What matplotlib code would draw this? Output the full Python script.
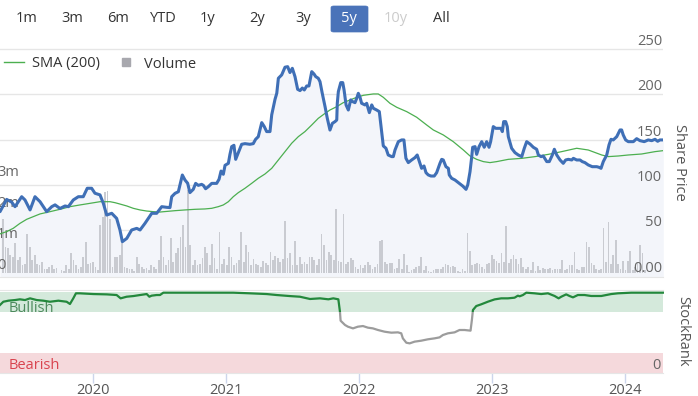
import numpy as np
import matplotlib
matplotlib.use("Agg")
import matplotlib.pyplot as plt
from matplotlib.patches import Rectangle, FancyBboxPatch
from matplotlib.lines import Line2D
from matplotlib import transforms as mtrans

# ---------------- data (time in decimal years) ----------------
price_t = [2019.301, 2019.351, 2019.389, 2019.414, 2019.464, 2019.489, 2019.527, 2019.564, 2019.602, 2019.652,
           2019.690, 2019.715, 2019.752, 2019.790, 2019.815, 2019.852, 2019.890, 2019.927, 2019.957, 2019.990,
           2020.015, 2020.053, 2020.078, 2020.103, 2020.141, 2020.178, 2020.203, 2020.221, 2020.254, 2020.291,
           2020.329, 2020.354, 2020.391, 2020.442, 2020.479, 2020.517, 2020.554, 2020.579, 2020.592, 2020.617,
           2020.642, 2020.654, 2020.672, 2020.692, 2020.712, 2020.729, 2020.754, 2020.772, 2020.792, 2020.817,
           2020.830, 2020.847, 2020.867, 2020.893, 2020.930, 2020.948, 2020.963, 2020.980, 2020.993, 2021.018,
           2021.030, 2021.043, 2021.060, 2021.073, 2021.093, 2021.118, 2021.143, 2021.180, 2021.205, 2021.223,
           2021.243, 2021.269, 2021.288, 2021.306, 2021.331, 2021.344, 2021.369, 2021.382, 2021.394, 2021.419,
           2021.444, 2021.464, 2021.481, 2021.499, 2021.519, 2021.539, 2021.557, 2021.574, 2021.589, 2021.607,
           2021.624, 2021.645, 2021.662, 2021.675, 2021.694, 2021.707, 2021.724, 2021.745, 2021.762, 2021.782,
           2021.800, 2021.820, 2021.833, 2021.837, 2021.845, 2021.863, 2021.878, 2021.888, 2021.903, 2021.920,
           2021.938, 2021.953, 2021.970, 2021.983, 2021.995, 2022.008, 2022.020, 2022.045, 2022.058, 2022.078,
           2022.088, 2022.096, 2022.108, 2022.133, 2022.153, 2022.171, 2022.183, 2022.203, 2022.220, 2022.246,
           2022.258, 2022.271, 2022.296, 2022.321, 2022.338, 2022.353, 2022.371, 2022.396, 2022.421, 2022.438,
           2022.454, 2022.471, 2022.489, 2022.504, 2022.521, 2022.541, 2022.566, 2022.584, 2022.609, 2022.622,
           2022.634, 2022.654, 2022.672, 2022.679, 2022.697, 2022.722, 2022.747, 2022.780, 2022.805, 2022.818,
           2022.835, 2022.848, 2022.855, 2022.873, 2022.885, 2022.903, 2022.923, 2022.942, 2022.960, 2022.978,
           2022.990, 2023.010, 2023.028, 2023.048, 2023.068, 2023.078, 2023.088, 2023.103, 2023.115, 2023.123,
           2023.148, 2023.173, 2023.198, 2023.224, 2023.243, 2023.261, 2023.286, 2023.311, 2023.336, 2023.349,
           2023.369, 2023.386, 2023.412, 2023.431, 2023.454, 2023.469, 2023.487, 2023.512, 2023.536, 2023.554,
           2023.574, 2023.600, 2023.612, 2023.637, 2023.662, 2023.679, 2023.699, 2023.724, 2023.754, 2023.788,
           2023.805, 2023.820, 2023.837, 2023.863, 2023.880, 2023.895, 2023.912, 2023.938, 2023.963, 2023.975,
           2023.987, 2024.005, 2024.025, 2024.063, 2024.088, 2024.113, 2024.145, 2024.175, 2024.201, 2024.226,
           2024.246, 2024.263, 2024.288]
price_v = [70.5, 84, 81, 76, 87, 83.4, 72.4, 87, 81.5, 70.5,
           76, 78, 74, 76.8, 76, 83.4, 87, 87, 96.3, 96.3,
           90.8, 89, 79.7, 66.8, 68.7, 63.1, 50.3, 37.4, 41, 50.3,
           52.1, 50.3, 57.6, 68.7, 68.7, 76, 75.3, 75, 87, 90.7,
           92.5, 99.9, 110.9, 105.4, 101.8, 91.5, 95.1, 101.7, 99.5, 100.6,
           99.5, 95.8, 98, 101.7, 101.7, 106.2, 115.3, 111.7, 121.6, 123.8,
           133.7, 142.2, 143.7, 128.2, 135.6, 144.8, 145.5, 144.8, 145.5, 150.3,
           153.2, 168.7, 164.3, 158.8, 158.8, 177.3, 194.5, 201.0, 217.6, 221.3,
           229.8, 230.4, 223.9, 228.6, 219.4, 205.4, 204.0, 206.8, 204.7, 209.1,
           209.1, 224.9, 222.3, 219.4, 217.6, 213.9, 201.0, 186.3, 173.4, 160.5,
           167.9, 169.8, 171.6, 190, 202.9, 212.8, 212.8, 204.7, 188.2, 182.6,
           193.7, 191.8, 190.7, 195.5, 201.0, 196.6, 190, 188.2, 190, 179.7,
           184.5, 188.2, 184.5, 182.6, 180.8, 158.7, 143, 140.4, 133, 131.2,
           131.2, 138.5, 147.7, 149.6, 149.6, 129.4, 124.6, 127.5, 130.1, 133,
           125.7, 118.3, 120.9, 113.5, 111, 109.8, 109.8, 113.5, 123.8, 128.2,
           127.5, 120.1, 118.3, 111, 107.3, 105.4, 102.5, 98.8, 95.1, 100,
           114.6, 131.2, 141.5, 142.2, 133.7, 142.2, 147.7, 141.5, 147.7, 141.5,
           147.7, 164.3, 162.4, 162.4, 162.4, 158.8, 169.8, 169.8, 164.3, 153.2,
           140.4, 135.6, 133, 131.2, 140.4, 147.7, 145.1, 141.5, 139.3, 133,
           131.2, 131.9, 125.7, 125.7, 133, 139.3, 133, 127.5, 123.8, 127.5,
           128.2, 127.5, 129.3, 127.5, 127.5, 125.7, 124.6, 122, 120.1, 120.1,
           119.4, 118.3, 125.7, 133, 144.1, 150.3, 149.6, 153.2, 160.6, 160.6,
           155.1, 149.6, 147.7, 147.7, 151, 148.8, 147.7, 149.6, 148.8, 150.3,
           148.1, 149.6, 149.6]

sma_t = [2019.301, 2019.351, 2019.401, 2019.451, 2019.502, 2019.551, 2019.602, 2019.677, 2019.752, 2019.827,
         2019.902, 2019.978, 2020.053, 2020.090, 2020.128, 2020.166, 2020.203, 2020.254, 2020.303, 2020.354,
         2020.404, 2020.454, 2020.504, 2020.617, 2020.692, 2020.767, 2020.842, 2020.893, 2020.942, 2020.980,
         2021.018, 2021.055, 2021.093, 2021.143, 2021.193, 2021.243, 2021.293, 2021.344, 2021.394, 2021.444,
         2021.494, 2021.544, 2021.594, 2021.645, 2021.694, 2021.745, 2021.782, 2021.833, 2021.882, 2021.933,
         2021.983, 2022.033, 2022.108, 2022.145, 2022.183, 2022.233, 2022.284, 2022.359, 2022.434, 2022.509,
         2022.559, 2022.634, 2022.709, 2022.785, 2022.835, 2022.885, 2022.935, 2022.985, 2023.036, 2023.123,
         2023.224, 2023.324, 2023.424, 2023.524, 2023.637, 2023.724, 2023.825, 2023.875, 2023.950, 2024.025,
         2024.126, 2024.226, 2024.288]
sma_v = [46.0, 48.5, 52.2, 57.6, 62.1, 65, 68, 70.5, 73.1, 76,
         77.9, 79.7, 81.5, 81.5, 81.5, 80.4, 78.9, 76.8, 74.2, 72.4,
         71.2, 70.5, 70.1, 71.6, 72.4, 73.1, 73.5, 74.2, 76, 77.9,
         81.5, 87, 91.5, 96.3, 101.7, 107.3, 112, 118.3, 127.5, 136.7,
         145.9, 153.2, 158.8, 166.1, 173.4, 178.9, 182.6, 186.3, 190.7, 193.7,
         196.6, 198.8, 200.3, 200.3, 196.6, 190, 185.6, 180.8, 174.6, 166.1,
         160.6, 155.1, 147.7, 138.5, 131.9, 128.2, 125.7, 124.6, 125.7, 128.2,
         129.3, 131.2, 133.7, 136.7, 140.4, 138.5, 133, 131.2, 131.9, 133,
         134.1, 136.7, 137.8]

# weekly volume, millions of shares
volume_start, volume_end = 2019.324, 2024.150
volume_m = [1.77, 0.86, 0.81, 0.59, 0.54, 0.97, 0.43, 0.54, 0.27, 0.32,
            1.29, 0.86, 0.43, 0.59, 0.32, 0.27, 0.38, 0.16, 0.16, 0.22,
            0.29, 0.16, 0.18, 0.03, 0.11, 0.08, 0.27, 0.16, 0.65, 0.43,
            0.27, 0.16, 0.22, 0.54, 1.00, 0.32, 0.35, 0.38, 0.22, 0.11,
            1.56, 1.83, 2.63, 2.66, 1.77, 0.22, 0.54, 0.54, 0.59, 0.97,
            0.22, 0.18, 0.14, 0.16, 0.08, 0.54, 0.32, 0.22, 0.16, 0.18,
            0.11, 0.29, 0.22, 0.16, 0.43, 1.22, 0.54, 0.27, 0.43, 1.13,
            0.38, 0.65, 0.81, 1.18, 1.56, 0.86, 2.69, 0.91, 0.29, 0.43,
            0.27, 0.32, 0.51, 0.86, 0.65, 0.27, 0.94, 0.51, 0.16, 1.34,
            0.32, 0.48, 0.27, 0.86, 0.54, 0.27, 0.35, 0.43, 1.34, 0.38,
            0.91, 0.70, 0.29, 0.48, 0.32, 0.27, 0.22, 0.40, 0.35, 0.29,
            0.70, 0.43, 0.57, 0.51, 0.38, 0.48, 1.69, 0.51, 0.65, 0.27,
            1.04, 0.27, 0.54, 0.32, 0.38, 0.32, 0.54, 0.54, 0.43, 0.27,
            0.48, 1.26, 0.91, 0.43, 0.70,
            0.59, 0.43, 2.08, 0.40, 0.38, 1.91, 0.32, 0.38, 0.51, 0.43,
            0.22, 0.16, 0.29, 0.18, 0.27, 0.38, 0.27, 0.16, 0.22, 0.32,
            1.04, 1.08, 0.38, 0.32, 0.35, 0.35, 0.16, 0.18, 0.46, 0.16,
            0.62, 0.29, 0.05, 0.11, 0.16, 0.22, 0.25, 0.54, 0.11, 0.24,
            0.08, 0.05, 0.11, 0.14, 0.16, 0.16, 0.22, 0.30, 0.27, 0.22,
            0.24, 0.22, 0.08, 0.05, 0.16, 0.08, 1.32, 0.72, 0.29, 0.30,
            0.35, 0.32, 0.22, 0.16, 0.30, 0.35, 0.59, 0.46, 0.40, 0.35,
            0.65, 0.38, 1.54, 0.34, 0.46, 0.59, 0.48, 0.32, 0.51, 0.22,
            0.16, 0.22, 0.11, 0.38, 0.08, 0.24, 0.11, 0.18, 0.16, 0.14,
            0.18, 0.11, 0.16, 0.14, 0.16, 0.43, 0.11, 0.16, 0.27, 0.27,
            0.68, 0.16, 0.11, 0.22, 0.22, 1.00, 0.86, 0.35, 0.29, 0.16,
            0.11, 0.16, 1.47, 0.38, 1.65, 0.32, 0.59, 1.08, 0.32, 0.16,
            0.40, 0.11, 0.40, 0.72, 0.11, 0.22, 0.35, 0.91, 0.65, 0.11]

rank_t = [2019.301, 2019.326, 2019.364, 2019.414, 2019.451, 2019.489, 2019.527, 2019.577, 2019.627, 2019.677,
          2019.740, 2019.802, 2019.827, 2019.852, 2019.872, 2019.902, 2020.003, 2020.103, 2020.178, 2020.208,
          2020.253, 2020.303, 2020.354, 2020.404, 2020.424, 2020.441, 2020.479, 2020.504, 2020.529, 2020.604,
          2020.805, 2021.055, 2021.181, 2021.306, 2021.381, 2021.481, 2021.556, 2021.632, 2021.707, 2021.770,
          2021.807, 2021.845, 2021.857, 2021.862, 2021.895, 2021.917, 2021.955, 2021.992, 2022.030, 2022.067,
          2022.105, 2022.143, 2022.193, 2022.243, 2022.293, 2022.318, 2022.330, 2022.356, 2022.381, 2022.418,
          2022.468, 2022.518, 2022.569, 2022.606, 2022.631, 2022.669, 2022.719, 2022.756, 2022.794, 2022.839,
          2022.849, 2022.857, 2022.882, 2022.919, 2022.970, 2023.020, 2023.070, 2023.120, 2023.170, 2023.195,
          2023.208, 2023.233, 2023.258, 2023.320, 2023.370, 2023.421, 2023.471, 2023.501, 2023.521, 2023.558,
          2023.583, 2023.609, 2023.646, 2023.696, 2023.746, 2023.822, 2023.897, 2023.947, 2024.047, 2024.172,
          2024.285]
rank_v = [84, 88, 89.3, 90.1, 91, 90.1, 92.2, 90.1, 89.3, 88,
          89.3, 88, 85.2, 92.2, 98.4, 98.4, 97.5, 97.1, 96.3, 92.2,
          94.2, 95, 96.3, 97.5, 94.2, 95.5, 96.3, 96.3, 99.2, 99.2,
          99.2, 99.2, 98.4, 97.5, 96.3, 95, 94.2, 91.4, 92.2, 91,
          92.2, 91, 75.7, 64.6, 59.3, 57.2, 55.1, 57.2, 58.0, 56.0,
          55.1, 53.1, 51.0, 49.8, 50.2, 49.0, 42.8, 37.4, 36.6, 38.7,
          39.9, 41.6, 42.8, 44.0, 46.9, 49.0, 50.2, 53.1, 53.1, 52.3,
          65.4, 77.8, 82.7, 84.8, 88.1, 90.9, 92.2, 92.2, 93.0, 95.5,
          94.7, 96.3, 99.2, 98.4, 97.5, 98.4, 95.1, 92.2, 94.2, 97.1,
          95.1, 93.4, 96.3, 96.3, 95.1, 95.1, 97.5, 98.4, 99.2, 99.2,
          99.2]

range_buttons = ["1m", "3m", "6m", "YTD", "1y", "2y", "3y", "5y", "10y", "All"]
price_ticks = [0, 50, 100, 150, 200, 250]
price_tick_labels = ["0.00", "50", "100", "150", "200", "250"]
volume_ticks = [0, 1, 2, 3]
volume_tick_labels = ["0", "1m", "2m", "3m"]
year_ticks = [2020, 2021, 2022, 2023, 2024]
bullish_band = (75, 100)
bearish_band = (0, 25)

# ---------------- styling ----------------
W, H = 698, 396
FONT = ["Open Sans", "DejaVu Sans"]
plt.rcParams['font.family'] = FONT
BLUE = "#3f6fb6"
SMA_GREEN = "#4caf50"
RANK_GREEN = "#23883c"
RANK_GRAY = "#9c9c9c"
GRID = "#e6e6e6"
LABEL = "#666666"

fig = plt.figure(figsize=(W / 100, H / 100), dpi=100)
fig.patch.set_facecolor("white")


def fx(px):
    return px / W


def fy(py):
    return 1 - py / H


XMIN, XMAX = 2019.301, 2024.286
PLOT_RIGHT = 663
MAIN_TOP, MAIN_BOT = 36, 277
main_rect = [0, fy(MAIN_BOT), PLOT_RIGHT / W, (MAIN_BOT - MAIN_TOP) / H]

# layer 1: fill + grid
ax_fill = fig.add_axes(main_rect, zorder=1)
# layer 2: volume bars
vax = fig.add_axes(main_rect, zorder=2)
# layer 3: price lines
ax = fig.add_axes(main_rect, zorder=3)

price_ylim = (-1.54, 264.2)
for a in (ax_fill, ax):
    a.set_xlim(XMIN, XMAX)
    a.set_ylim(*price_ylim)
vax.set_xlim(XMIN, XMAX)
vax.set_ylim(-0.113, 7.66)

for a in (ax_fill, vax, ax):
    a.set_xticks([])
    a.set_yticks([])
    for s in a.spines.values():
        s.set_visible(False)
    a.patch.set_alpha(0)

ax_fill.patch.set_alpha(1)
ax_fill.patch.set_facecolor("white")
for v in price_ticks[1:]:
    ax_fill.axhline(v, color=GRID, lw=1.0, zorder=0)
ax_fill.spines['bottom'].set_visible(True)
ax_fill.spines['bottom'].set_color(GRID)
ax_fill.fill_between(price_t, price_v, price_ylim[0] - 5, color="#f3f5fa", lw=0, zorder=1)

# volume bars
n_vol = len(volume_m)
vol_t = np.linspace(volume_start, volume_end, n_vol)
bar_w = (volume_end - volume_start) / (n_vol - 1) * 0.72
vax.bar(vol_t, volume_m, width=bar_w, color="#c9cbd1", lw=0)

# price and SMA lines
ax.plot(sma_t, sma_v, color=SMA_GREEN, lw=0.9, solid_joinstyle="round")
ax.plot(price_t, price_v, color=BLUE, lw=2.2, solid_joinstyle="round", solid_capstyle="round")

# price labels (inside right, above gridline)
ptrans = mtrans.blended_transform_factory(ax.transAxes, ax.transData)
ptrans = mtrans.offset_copy(ptrans, fig=fig, x=-1, y=7.5, units="dots")
for v, lab in zip(price_ticks, price_tick_labels):
    ax.text(1.0, v, lab, transform=ptrans, ha="right", va="center", fontsize=10.5, color=LABEL)

# volume labels (inside left, above tick)
vtrans = mtrans.blended_transform_factory(vax.transAxes, vax.transData)
vtrans = mtrans.offset_copy(vtrans, fig=fig, x=-3, y=8, units="dots")
for v, lab in zip(volume_ticks, volume_tick_labels):
    ax.text(0.0, v, lab, transform=vtrans, ha="left", va="center", fontsize=10.5, color=LABEL, zorder=1)

fig.text(fx(680), fy(162), "Share Price", rotation=-90, ha="center", va="center",
         fontsize=10.5, color="#555555")

# legend
handles = [Line2D([], [], color=SMA_GREEN, lw=1.0),
           Line2D([], [], marker="s", ls="", color="#a8a8ae", markersize=5.5)]
leg = ax.legend(handles, ["SMA (200)", "Volume"], loc="center left", ncol=2,
                bbox_to_anchor=(fx(0), fy(64)), bbox_transform=fig.transFigure,
                frameon=False, fontsize=10.5, handlelength=1.35, handletextpad=0.55,
                columnspacing=1.1, borderpad=0, borderaxespad=0.3)
for t in leg.get_texts():
    t.set_color("#333333")

# ---------------- StockRank panel ----------------
R_TOP, R_BOT = 290, 373
rax = fig.add_axes([0, fy(R_BOT), PLOT_RIGHT / W, (R_BOT - R_TOP) / H])
rax.set_xlim(XMIN, XMAX)
rax.set_ylim(0, 102.5)
rax.axhspan(*bullish_band, color="#d4e9db", lw=0, zorder=0)
rax.axhspan(*bearish_band, color="#f5d9dc", lw=0, zorder=0)
for s in ("left", "right"):
    rax.spines[s].set_visible(False)
for s in ("top", "bottom"):
    rax.spines[s].set_color(GRID)
rax.set_yticks([])

rax.text(0.0, 79.5, "Bullish", transform=mtrans.offset_copy(
    mtrans.blended_transform_factory(rax.transAxes, rax.transData), fig=fig, x=9, units="dots"),
    ha="left", va="center", fontsize=10.5, color="#4d8a5d", zorder=1)
rax.text(0.0, 9, "Bearish", transform=mtrans.offset_copy(
    mtrans.blended_transform_factory(rax.transAxes, rax.transData), fig=fig, x=9, units="dots"),
    ha="left", va="center", fontsize=10.5, color="#d9444f", zorder=1)
rax.text(1.0, 9, "0", transform=mtrans.offset_copy(
    mtrans.blended_transform_factory(rax.transAxes, rax.transData), fig=fig, x=-2, units="dots"),
    ha="right", va="center", fontsize=10.5, color=LABEL, zorder=1)

g_line, = rax.plot(rank_t, rank_v, color=RANK_GREEN, lw=1.6, zorder=3)
r_line, = rax.plot(rank_t, rank_v, color=RANK_GRAY, lw=1.6, zorder=3)
g_line.set_clip_path(Rectangle((XMIN - 1, bullish_band[0]), XMAX - XMIN + 2, 60, transform=rax.transData))
r_line.set_clip_path(Rectangle((XMIN - 1, -50), XMAX - XMIN + 2, bullish_band[0] + 50, transform=rax.transData))

rax.set_xticks(year_ticks)
rax.set_xticklabels([str(y) for y in year_ticks])
rax.tick_params(axis="x", length=7, width=1, color="#ccd6eb", labelcolor="#555555",
                labelsize=10.5, pad=0.5)

fig.text(fx(683), fy(331), "StockRank", rotation=-90, ha="center", va="center",
         fontsize=10.5, color="#555555")

# ---------------- range selector buttons ----------------
btn_x = [27, 72, 118, 163, 208, 257, 303, 349, 396, 441]
for x, lab in zip(btn_x, range_buttons):
    color = "#333333"
    if lab == "5y":
        box = FancyBboxPatch((fx(331), fy(32)), fx(37), 26 / H,
                             boxstyle="round,pad=0,rounding_size=0.004",
                             transform=fig.transFigure, facecolor="#4a73b9",
                             edgecolor="#4a73b9", lw=0.5)
        fig.patches.append(box)
        color = "white"
    elif lab == "10y":
        color = "#cccccc"
    fig.text(fx(x), fy(19), lab, ha="center", va="center", fontsize=10.5, color=color)

fig.savefig("out.png", dpi=100, facecolor="white")
